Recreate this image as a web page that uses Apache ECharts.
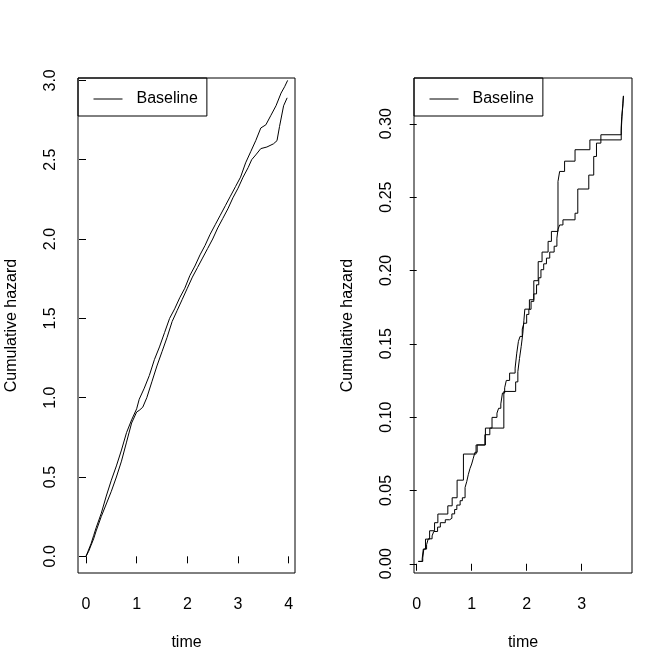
<!DOCTYPE html>
<html>
<head>
<meta charset="utf-8">
<script src="https://cdn.jsdelivr.net/npm/echarts@6/dist/echarts.min.js"></script>
<style>
html,body{margin:0;padding:0;background:#fff}
#main{width:672px;height:672px}
</style>
</head>
<body>
<div id="main"></div>
<script>
// left panel, two curves
var leftTimeA = [0,0.05,0.1,0.15,0.2,0.3,0.4,0.5,0.6,0.7,0.8,0.9,1.0,1.05,1.15,1.25,1.35,1.45,1.55,1.65,1.75,1.85,1.95,2.05,2.15,2.25,2.35,2.45,2.55,2.65,2.75,2.85,2.95,3.05,3.15,3.25,3.35,3.45,3.55,3.65,3.75,3.85,3.92,3.98];
var leftHazA  = [0,0.04,0.08,0.13,0.18,0.27,0.38,0.48,0.57,0.67,0.78,0.86,0.93,0.99,1.06,1.14,1.24,1.32,1.41,1.50,1.56,1.63,1.69,1.77,1.83,1.90,1.96,2.03,2.09,2.15,2.21,2.27,2.33,2.39,2.48,2.55,2.62,2.70,2.72,2.78,2.84,2.92,2.96,3.00];
var leftTimeB = [0,0.05,0.1,0.15,0.2,0.3,0.4,0.5,0.6,0.7,0.8,0.9,1.0,1.05,1.12,1.2,1.3,1.4,1.5,1.6,1.7,1.8,1.9,2.0,2.1,2.2,2.3,2.4,2.5,2.6,2.7,2.8,2.9,3.0,3.1,3.2,3.27,3.35,3.45,3.57,3.7,3.77,3.82,3.9,3.97];
var leftHazB  = [0,0.03,0.07,0.11,0.16,0.25,0.33,0.41,0.50,0.60,0.72,0.84,0.91,0.92,0.94,1.00,1.10,1.20,1.29,1.38,1.48,1.55,1.62,1.69,1.76,1.82,1.88,1.94,2.00,2.07,2.13,2.19,2.26,2.32,2.39,2.45,2.50,2.53,2.57,2.58,2.60,2.62,2.71,2.84,2.89];

// right panel, two step curves (time of jump, new value)
var rightTimeA = [0.03,0.10,0.12,0.16,0.235,0.325,0.385,0.566,0.645,0.735,0.85,1.08,1.25,1.585,1.80,1.84,1.87,1.90,1.93,1.95,1.967,2.05,2.13,2.21,2.28,2.39,2.45,2.57,2.60,2.69,2.88,3.15,3.72,3.73,3.74,3.75,3.76];
var rightHazA  = [0.0016,0.0035,0.0100,0.0168,0.0225,0.0280,0.0339,0.0395,0.0450,0.0570,0.0748,0.0810,0.0925,0.1175,0.124,0.131,0.140,0.148,0.157,0.166,0.1736,0.180,0.193,0.206,0.2125,0.2198,0.2266,0.2607,0.2675,0.2745,0.2823,0.289,0.295,0.302,0.309,0.314,0.319];
var rightTimeB = [0.03,0.11,0.13,0.18,0.21,0.28,0.31,0.38,0.43,0.52,0.60,0.64,0.69,0.73,0.79,0.83,0.88,0.91,0.94,0.97,1.00,1.03,1.06,1.10,1.24,1.33,1.37,1.46,1.49,1.53,1.56,1.60,1.63,1.69,1.79,1.82,1.85,1.88,1.92,1.95,2.00,2.04,2.08,2.13,2.18,2.22,2.26,2.31,2.36,2.42,2.50,2.55,2.57,2.60,2.66,2.88,2.93,3.13,3.22,3.27,3.35,3.72,3.73,3.75,3.76];
var rightHazB  = [0.0016,0.004,0.010,0.013,0.017,0.019,0.022,0.025,0.028,0.030,0.031,0.034,0.037,0.040,0.043,0.045,0.052,0.056,0.061,0.065,0.068,0.072,0.076,0.081,0.088,0.0925,0.0998,0.1027,0.106,0.109,0.1164,0.120,0.125,0.130,0.1334,0.1436,0.1516,0.155,0.160,0.164,0.170,0.1735,0.1789,0.184,0.1902,0.195,0.2005,0.2045,0.2084,0.2125,0.2165,0.222,0.228,0.231,0.2345,0.239,0.2555,0.265,0.2777,0.2868,0.2925,0.298,0.305,0.312,0.319];

var leftXTicks = [0,1,2,3,4];
var leftYTicks = [0,0.5,1,1.5,2,2.5,3];
var rightXTicks = [0,1,2,3];
var rightYTicks = [0,0.05,0.1,0.15,0.2,0.25,0.3];

var font = 'Liberation Sans, Arial, Helvetica, sans-serif';

function pairs(xs, ys){
	var out = [];
	for (var i = 0; i < xs.length; i++) {
		out.push([xs[i], ys[i]]);
	}
	return out;
}

function makeXAxis(idx, min, max, ticks){
	return {
		type: 'value', gridIndex: idx, min: min, max: max,
		name: 'time', nameLocation: 'middle', nameGap: 62,
		nameTextStyle: {fontFamily: font, fontSize: 16, color: '#000'},
		splitLine: {show: false},
		axisLine: {show: false},
		axisTick: {show: true, inside: false, length: 7, customValues: ticks, lineStyle: {color: '#000'}},
		axisLabel: {customValues: ticks, margin: 24, fontFamily: font, fontSize: 16, color: '#000'}
	};
}

function makeYAxis(idx, min, max, ticks, digits){
	return {
		type: 'value', gridIndex: idx, min: min, max: max,
		name: 'Cumulative hazard', nameLocation: 'middle', nameGap: 58, nameRotate: 90,
		nameTextStyle: {fontFamily: font, fontSize: 16, color: '#000'},
		splitLine: {show: false},
		axisLine: {show: false},
		axisTick: {show: true, inside: false, length: 7, customValues: ticks, lineStyle: {color: '#000'}},
		axisLabel: {customValues: ticks, rotate: 90, margin: 19, fontFamily: font, fontSize: 16, color: '#000',
			formatter: function(v){ return v.toFixed(digits); }}
	};
}

function makeLegend(left){
	return {
		left: left, top: 78,
		data: ['Baseline'],
		orient: 'vertical',
		borderColor: '#000', borderWidth: 1, borderRadius: 0,
		padding: [13, 9, 9, 15],
		itemWidth: 29, itemHeight: 14,
		itemStyle: {opacity: 0},
		lineStyle: {color: '#000', width: 1},
		textStyle: {fontFamily: font, fontSize: 16, color: '#000', padding: [0, 0, 0, 9]}
	};
}

function makeSeries(name, data, xi, yi, step){
	return {
		name: name, type: 'line', xAxisIndex: xi, yAxisIndex: yi,
		data: data, symbol: 'none', step: step, smooth: false,
		lineStyle: {color: '#000', width: 1}, itemStyle: {color: '#000'},
		silent: true
	};
}

var myChart = echarts.init(document.getElementById('main'));
var option = {
	animation: false,
	backgroundColor: '#fff',
	grid: [
		{left: 78, top: 78, width: 217, height: 495, show: true, borderColor: '#000', borderWidth: 1, backgroundColor: 'transparent'},
		{left: 414, top: 78, width: 218, height: 495, show: true, borderColor: '#000', borderWidth: 1, backgroundColor: 'transparent'}
	],
	xAxis: [
		makeXAxis(0, -0.158, 4.125, leftXTicks),
		makeXAxis(1, -0.049, 3.916, rightXTicks)
	],
	yAxis: [
		makeYAxis(0, -0.105, 3.015, leftYTicks, 1),
		makeYAxis(1, -0.0063, 0.3312, rightYTicks, 2)
	],
	legend: [makeLegend(78), makeLegend(414)],
	series: [
		makeSeries('Baseline', pairs(leftTimeA, leftHazA), 0, 0, false),
		makeSeries('Baseline', pairs(leftTimeB, leftHazB), 0, 0, false),
		makeSeries('Baseline', pairs(rightTimeA, rightHazA), 1, 1, 'end'),
		makeSeries('Baseline', pairs(rightTimeB, rightHazB), 1, 1, 'end')
	]
};
myChart.setOption(option);
</script>
</body>
</html>
